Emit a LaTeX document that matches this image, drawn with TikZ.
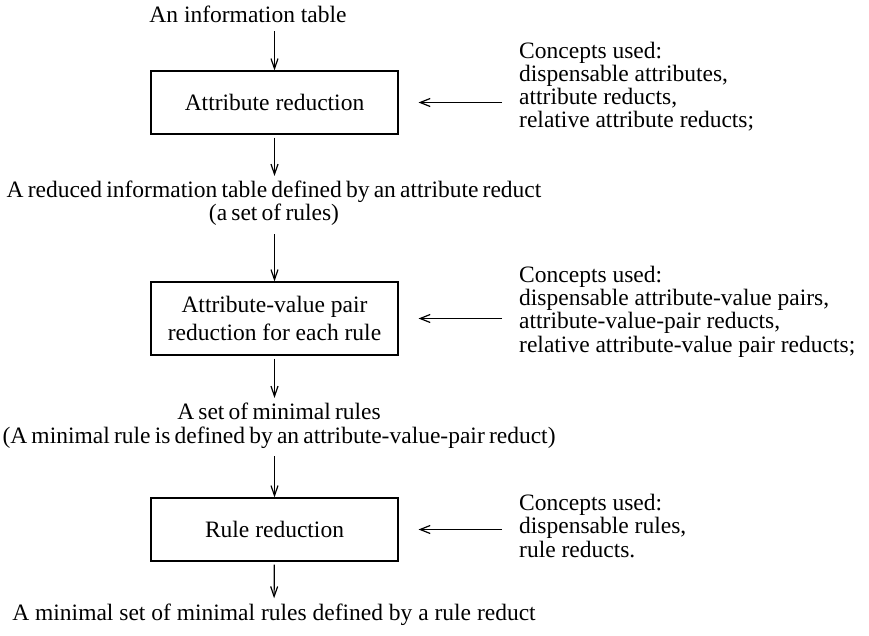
\documentclass[tikz,border=0pt]{standalone}
\usepackage{fontspec}
\setmainfont{Liberation Serif}
\usetikzlibrary{arrows.meta,positioning}

\tikzset{
  txt/.style={font=\fontsize{23.5}{23.3}\selectfont, inner xsep=2pt, inner ysep=5pt, anchor=base},
  tight/.style={font={\fontsize{23.5}{23.3}\selectfont\spaceskip=4.2pt plus 1pt minus 1pt\relax}},
  stepbox/.style={draw, line width=1.2pt, minimum width=247pt, font=\fontsize{23.5}{28}\selectfont, align=center, inner sep=0pt},
  cpt/.style={font=\fontsize{23.5}{23.3}\selectfont, align=left, anchor=base west, inner sep=0pt},
  flow/.style={-{Straight Barb[length=10pt,width=7pt]}, line width=1.2pt, shorten <=3pt},
  feed/.style={-{Straight Barb[length=10pt,width=8pt]}, line width=1.2pt, shorten >=20pt}
}

\begin{document}
\begin{tikzpicture}[x=1pt,y=-1pt]
    \useasboundingbox (0,0) rectangle (869,636);
    % main column
    \node[txt] (info) at (248,23) {An information table};
    \node[stepbox, minimum height=63pt] (attred) at (274.5,102.5) {Attribute reduction};
    \node[txt, tight, align=center] (redtab) at (274,221) {A reduced information table defined by an attribute reduct\\(a set of rules)};
    \node[stepbox, minimum height=73pt] (avpred) at (274.5,318.5) {Attribute-value pair\\reduction for each rule};
    \node[txt, tight, align=center] (minrules) at (279,443) {A set of minimal rules\\(A minimal rule is defined by an attribute-value-pair reduct)};
    \node[stepbox, minimum height=63pt] (rulered) at (274.5,529.5) {Rule reduction};
    \node[txt] (minset) at (274,620) {A minimal set of minimal rules defined by a rule reduct};
    % concepts
    \node[cpt] (cpt1) at (519,128) {Concepts used:\\dispensable attributes,\\attribute reducts,\\relative attribute reducts;};
    \node[cpt] (cpt2) at (519,352) {Concepts used:\\dispensable attribute-value pairs,\\attribute-value-pair reducts,\\relative attribute-value pair reducts;};
    \node[cpt] (cpt3) at (519,557) {Concepts used:\\dispensable rules,\\rule reducts.};
    % arrows
    \draw[flow] (info.south -| attred.north) -- (attred);
    \draw[flow] (attred) -- (redtab.north -| attred.south);
    \draw[flow] (redtab.south -| avpred.north) -- (avpred);
    \draw[flow] (avpred) -- (minrules.north -| avpred.south);
    \draw[flow] (minrules.south -| rulered.north) -- (rulered);
    \draw[flow] (rulered) -- (minset);
    \draw[feed] ([xshift=-17pt]cpt1.west |- attred.east) -- (attred.east);
    \draw[feed] ([xshift=-17pt]cpt2.west |- avpred.east) -- (avpred.east);
    \draw[feed] ([xshift=-17pt]cpt3.west |- rulered.east) -- (rulered.east);
\end{tikzpicture}
\end{document}
